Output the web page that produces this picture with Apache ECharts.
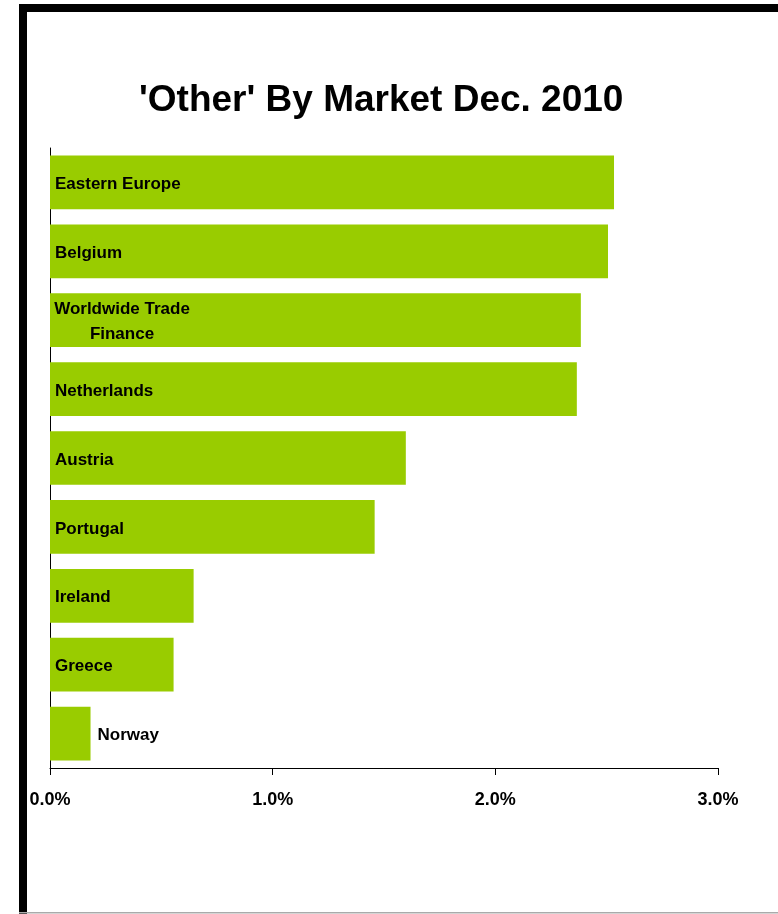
<!DOCTYPE html>
<html>
<head>
<meta charset="utf-8">
<script src="https://cdn.jsdelivr.net/npm/echarts@6/dist/echarts.min.js"></script>
<style>
html,body{margin:0;padding:0;background:#fff;}
#chart{width:778px;height:914px;}
</style>
</head>
<body>
<div id="chart"></div>
<script>
var titleText = "'Other' By Market Dec. 2010";
var categories = ['Eastern Europe', 'Belgium', 'Worldwide Trade\nFinance', 'Netherlands', 'Austria', 'Portugal', 'Ireland', 'Greece', 'Norway'];
var values = [2.533, 2.506, 2.384, 2.366, 1.598, 1.458, 0.645, 0.555, 0.182];
var xTicks = [0, 1, 2, 3];

var narrow = "'Liberation Sans Narrow', 'Arial Narrow', 'Liberation Sans', Arial, sans-serif";
var chart = echarts.init(document.getElementById('chart'), null, {renderer: 'canvas'});

var seriesData = values.map(function (v, i) {
  var item = {value: v};
  if (i === 2) {
    item.label = {position: [72, '50%'], align: 'center', verticalAlign: 'middle', lineHeight: 25};
  }
  if (i === values.length - 1) {
    item.label = {position: 'right', distance: 7};
  }
  return item;
});

chart.setOption({
  backgroundColor: '#fff',
  animation: false,
  title: {
    text: titleText,
    left: 134,
    top: 77,
    textStyle: {fontFamily: "'Liberation Sans', Arial, sans-serif", fontWeight: 'bold', fontSize: 37, color: '#000'}
  },
  graphic: [
    {type: 'rect', shape: {x: 19, y: 4, width: 759, height: 8}, style: {fill: '#000'}, silent: true},
    {type: 'rect', shape: {x: 19, y: 4, width: 8, height: 910}, style: {fill: '#000'}, silent: true},
    {type: 'rect', shape: {x: 19, y: 912, width: 759, height: 1.5}, style: {fill: '#aaaaaa'}, silent: true}
  ],
  grid: {left: 50, top: 148, right: 60, bottom: 146, containLabel: false},
  xAxis: {
    type: 'value',
    min: xTicks[0],
    max: xTicks[xTicks.length - 1],
    interval: 1,
    splitLine: {show: false},
    axisLine: {show: true, lineStyle: {color: '#000', width: 1}},
    axisTick: {show: true, length: 7, lineStyle: {color: '#000'}},
    axisLabel: {
      margin: 23,
      fontFamily: narrow, fontWeight: 'bold', fontSize: 18, color: '#000',
      formatter: function (v) { return v.toFixed(1) + '%'; }
    }
  },
  yAxis: {
    type: 'category',
    data: categories,
    inverse: true,
    axisLine: {show: true, lineStyle: {color: '#000', width: 1}},
    axisTick: {show: false},
    axisLabel: {show: false},
    splitLine: {show: false}
  },
  series: [{
    type: 'bar',
    data: seriesData,
    barCategoryGap: '22%',
    itemStyle: {color: '#99cc00'},
    label: {
      show: true,
      position: 'insideLeft',
      distance: 5,
      offset: [0, 2],
      formatter: '{b}',
      fontFamily: narrow, fontWeight: 'bold', fontSize: 17, color: '#000'
    }
  }]
});
</script>
</body>
</html>
